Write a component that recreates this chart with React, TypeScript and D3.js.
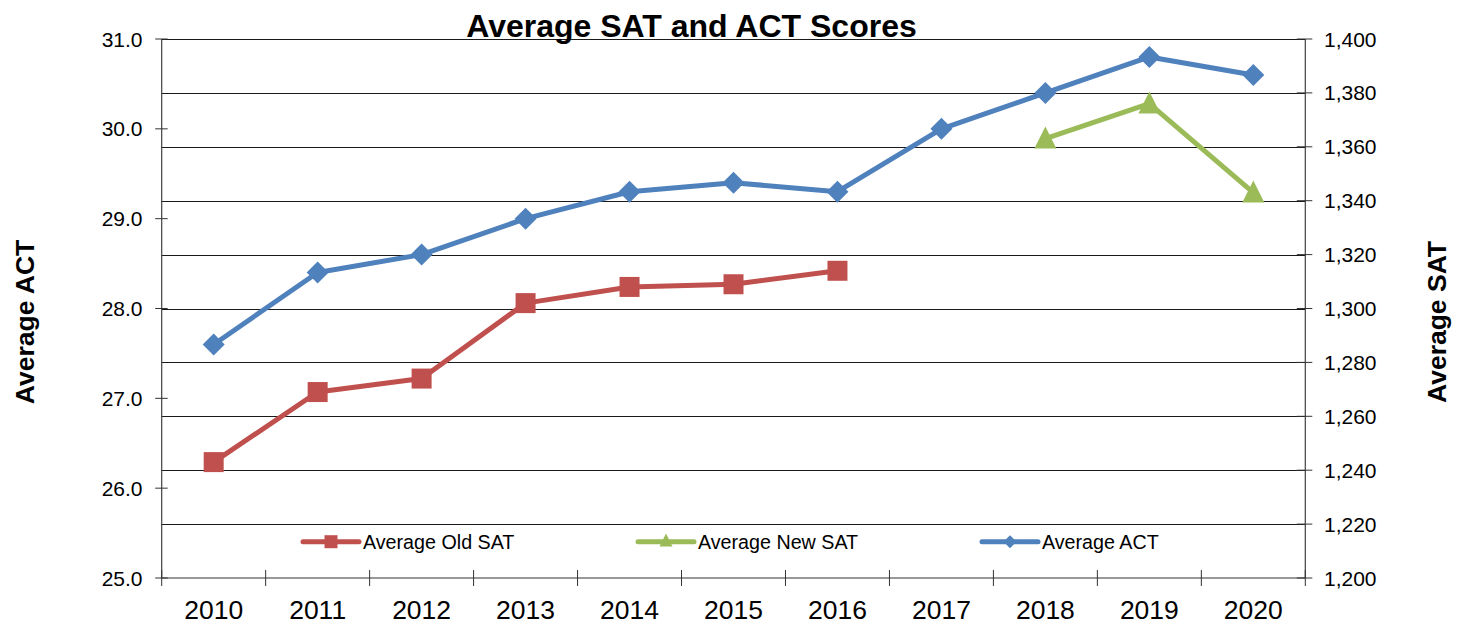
import React from "react";
import * as d3 from "d3";

const years = ["2010", "2011", "2012", "2013", "2014", "2015", "2016", "2017", "2018", "2019", "2020"];
const actScores = [27.6, 28.4, 28.6, 29.0, 29.3, 29.4, 29.3, 30.0, 30.4, 30.8, 30.6];
const oldSat: (number | null)[] = [1243, 1269, 1274, 1302, 1308, 1309, 1314, null, null, null, null];
const newSat: (number | null)[] = [null, null, null, null, null, null, null, null, 1363, 1376, 1343];
const leftTicks = [25, 26, 27, 28, 29, 30, 31];
const rightTicks = [1200, 1220, 1240, 1260, 1280, 1300, 1320, 1340, 1360, 1380, 1400];

const W = 1466;
const H = 634;
const X0 = 161.7;
const X1 = 1305.3;
const Y0 = 578;
const Y1 = 39;
const FONT = "'Liberation Sans', Arial, Helvetica, sans-serif";
const RED = "#C0504D";
const GREEN = "#9BBB59";
const BLUE = "#4F81BD";

const xBand = d3.scaleBand<string>().domain(years).range([X0, X1]);
const xc = (y: string) => (xBand(y) as number) + xBand.bandwidth() / 2;
const yL = d3.scaleLinear().domain([25, 31]).range([Y0, Y1]);
const yR = d3.scaleLinear().domain([1200, 1400]).range([Y0, Y1]);

function diamond(cx: number, cy: number, r: number) {
  return `M${cx},${cy - r}L${cx + r},${cy}L${cx},${cy + r}L${cx - r},${cy}Z`;
}
function square(cx: number, cy: number, r: number) {
  return `M${cx - r},${cy - r}H${cx + r}V${cy + r}H${cx - r}Z`;
}
function triangle(cx: number, cy: number, r: number) {
  return `M${cx},${cy - r * 1.1}L${cx + r},${cy + r * 0.9}L${cx - r},${cy + r * 0.9}Z`;
}

export default function App() {
  const lineL = d3
    .line<number | null>()
    .defined((d) => d != null)
    .x((_, i) => xc(years[i]))
    .y((d) => yL(d as number));
  const lineR = d3
    .line<number | null>()
    .defined((d) => d != null)
    .x((_, i) => xc(years[i]))
    .y((d) => yR(d as number));

  const boundaries = d3.range(years.length + 1).map((i) => X0 + i * xBand.step());

  const legend = [
    { label: "Average Old SAT", color: RED, x: 303, shape: "square" },
    { label: "Average New SAT", color: GREEN, x: 638, shape: "triangle" },
    { label: "Average ACT", color: BLUE, x: 982, shape: "diamond" },
  ];
  const LY = 541.7;

  return (
    <svg
      width={W}
      height={H}
      style={{ position: "absolute", left: 0, top: 0, background: "#fff" }}
      fontFamily={FONT}
    >
      <rect x={0} y={0} width={W} height={H} fill="#fff" />
      {/* gridlines */}
      {rightTicks.slice(1).map((t) => (
        <line key={t} x1={X0} x2={X1} y1={Math.round(yR(t)) + 0.5} y2={Math.round(yR(t)) + 0.5} stroke="#1a1a1a" strokeWidth={1} />
      ))}
      {/* axes */}
      <line x1={X0} x2={X0} y1={Y1} y2={Y0} stroke="#404040" strokeWidth={1.2} />
      <line x1={X1} x2={X1} y1={Y1} y2={Y0} stroke="#404040" strokeWidth={1.2} />
      <line x1={X0} x2={X1} y1={Y0} y2={Y0} stroke="#333" strokeWidth={1.2} />
      {leftTicks.map((t) => (
        <g key={t}>
          <line x1={X0 - 6.5} x2={X0 + 6} y1={yL(t)} y2={yL(t)} stroke="#333" strokeWidth={1} />
          <text x={142.5} y={yL(t)} dy="0.36em" textAnchor="end" fontSize={21} fill="#000">
            {d3.format(".1f")(t)}
          </text>
        </g>
      ))}
      {rightTicks.map((t) => (
        <g key={t}>
          <line x1={X1 - 8.5} x2={X1 + 7} y1={yR(t)} y2={yR(t)} stroke="#333" strokeWidth={1} />
          <text x={1324} y={yR(t)} dy="0.36em" textAnchor="start" fontSize={21} fill="#000">
            {d3.format(",")(t)}
          </text>
        </g>
      ))}
      {boundaries.map((bx, i) => (
        <line key={i} x1={bx} x2={bx} y1={Y0 - 8} y2={Y0 + 8} stroke="#333" strokeWidth={1} />
      ))}
      {years.map((y) => (
        <text key={y} x={xc(y)} y={618.5} textAnchor="middle" fontSize={26.5} fill="#000">
          {y}
        </text>
      ))}
      {/* title */}
      <text x={691.5} y={37} textAnchor="middle" fontSize={32} fontWeight="bold" fill="#000">
        Average SAT and ACT Scores
      </text>
      <text transform={`translate(34,322) rotate(-90)`} textAnchor="middle" fontSize={26.5} fontWeight="bold" fill="#000">
        Average ACT
      </text>
      <text transform={`translate(1446,322) rotate(-90)`} textAnchor="middle" fontSize={26.5} fontWeight="bold" fill="#000">
        Average SAT
      </text>
      {/* series */}
      <path d={lineR(oldSat) || ""} fill="none" stroke={RED} strokeWidth={5} strokeLinejoin="round" />
      {oldSat.map((v, i) =>
        v == null ? null : <path key={i} d={square(xc(years[i]), yR(v), 10)} fill={RED} />
      )}
      <path d={lineR(newSat) || ""} fill="none" stroke={GREEN} strokeWidth={5} strokeLinejoin="round" />
      {newSat.map((v, i) =>
        v == null ? null : <path key={i} d={triangle(xc(years[i]), yR(v), 11)} fill={GREEN} />
      )}
      <path d={lineL(actScores) || ""} fill="none" stroke={BLUE} strokeWidth={5} strokeLinejoin="round" />
      {actScores.map((v, i) => (
        <path key={i} d={diamond(xc(years[i]), yL(v), 11)} fill={BLUE} />
      ))}
      {/* legend */}
      {legend.map((l) => {
        const mx = l.x + 28;
        const shape =
          l.shape === "square"
            ? square(mx, LY, 6.5)
            : l.shape === "triangle"
            ? triangle(mx, LY - 1, 6.5)
            : diamond(mx, LY, 6.5);
        return (
          <g key={l.label}>
            <line x1={l.x} x2={l.x + 56} y1={LY} y2={LY} stroke={l.color} strokeWidth={5} strokeLinecap="round" />
            <path d={shape} fill={l.color} />
            <text x={l.x + 60} y={LY} dy="0.36em" fontSize={19.7} fill="#000">
              {l.label}
            </text>
          </g>
        );
      })}
    </svg>
  );
}
